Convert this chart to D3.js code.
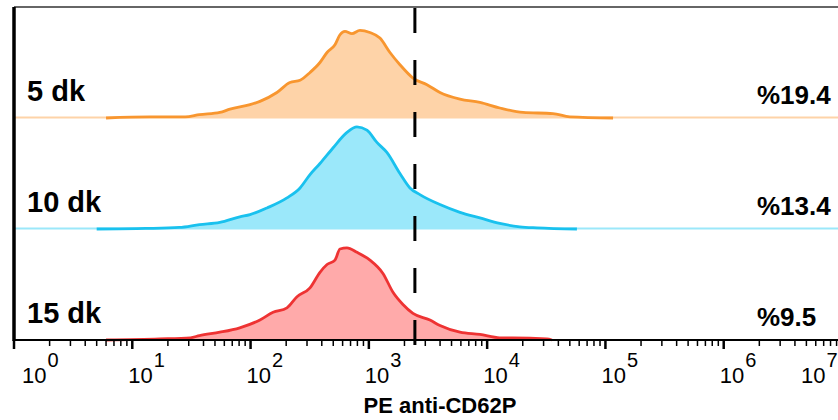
<!DOCTYPE html>
<html lang="tr">
<head>
    <meta charset="UTF-8">
    <title>PE anti-CD62P</title>
    <script src="https://d3js.org/d3.v7.min.js"></script>
    <style>
        body { margin: 0; background: #fff; }
        svg { display: block; background: #fff; }
        text { font-family: 'Liberation Sans', Arial, sans-serif; fill: #000; }
        .lbl { font-size: 29px; font-weight: bold; }
        .pct { font-size: 26px; font-weight: bold; }
        .tick-lbl { font-size: 22px; }
        .axis-title { font-size: 22px; font-weight: bold; }
    </style>
</head>
<body>
<svg width="838" height="420"></svg>
<script>
    // histogram data: [intensity, relative count]
    const groups = ["5 dk", "10 dk", "15 dk"];
    const percents = ["%19.4", "%13.4", "%9.5"];
    const gateValue = 2450;
    const decades = [0, 1, 2, 3, 4, 5, 6, 7];

    const hist5 = [
        [6, 0], [14, 1], [28, 1], [37, 3], [55, 5], [67, 8], [99, 12], [120, 15],
        [167, 23], [215, 32], [262, 34], [318, 41], [386, 50], [443, 59], [517, 66],
        [570, 75], [628, 78], [720, 76], [841, 79], [1021, 77], [1241, 72], [1508, 59],
        [1832, 48], [2360, 36], [3100, 30], [3990, 23], [5890, 17], [8690, 14],
        [12800, 9], [20100, 5], [36000, 4], [50100, 1], [116000, 0]
    ];
    const hist10 = [
        [5, 0], [13, 0.5], [25, 1.4], [37, 4], [55, 6], [81, 11], [99, 13], [138, 19],
        [203, 28], [262, 37], [318, 49], [386, 59], [497, 73], [653, 87], [793, 92],
        [963, 89], [1170, 78], [1420, 69], [1832, 50], [2225, 37], [2700, 31],
        [3990, 22], [5890, 15], [8690, 10], [12800, 5], [18900, 2], [26400, 1], [57400, 0]
    ];
    const hist15 = [
        [6, 0], [17, 1], [31, 2], [37, 4], [55, 7], [81, 11], [120, 18], [155, 25],
        [203, 29], [247, 39], [318, 47], [386, 61], [443, 68], [517, 72], [570, 82],
        [653, 83], [793, 79], [1021, 72], [1316, 60], [1600, 43], [1942, 32], [2360, 24],
        [3283, 18], [3990, 13], [5890, 7], [8690, 5], [12800, 2], [16500, 2], [32000, 1], [35300, 0]
    ];
    const histograms = [hist5, hist10, hist15];
    const fills = ["#FED3A8", "#9BE8FA", "#FFAAAA"];
    const strokes = ["#F8962F", "#19C1EE", "#EE3333"];

    const svg = d3.select("svg");
    const left = 14, topY = 7, panelH = 111, axisY = topY + panelH * 3;

    const x = d3.scaleLog().domain([1, 1e7]).range([left, 842]);

    histograms.forEach((data, i) => {
        const base = topY + panelH * (i + 1);
        const y = d3.scaleLinear().domain([0, 100]).range([base, base - panelH]);
        const g = svg.append("g");

        // baseline of each ridge
        if (i < 2) {
            g.append("line")
                .attr("x1", left).attr("x2", 838)
                .attr("y1", base - 0.5).attr("y2", base - 0.5)
                .attr("stroke", fills[i])
                .attr("stroke-width", 2);
        }

        g.append("path")
            .datum(data)
            .attr("fill", fills[i])
            .attr("d", d3.area().curve(d3.curveMonotoneX)
                .x(d => x(d[0])).y0(base).y1(d => y(d[1])));

        g.append("path")
            .datum(data)
            .attr("fill", "none")
            .attr("stroke", strokes[i])
            .attr("stroke-width", 2.8)
            .attr("stroke-linejoin", "round")
            .attr("d", d3.line().curve(d3.curveMonotoneX)
                .x(d => x(d[0])).y(d => y(d[1])));

        g.append("text").attr("class", "lbl")
            .attr("x", 27).attr("y", base - 17)
            .text(groups[i]);

        g.append("text").attr("class", "pct")
            .attr("x", 757).attr("y", base - 14)
            .text(percents[i]);
    });

    // frame
    svg.append("line").attr("x1", left).attr("x2", 838)
        .attr("y1", topY).attr("y2", topY)
        .attr("stroke", "#333").attr("stroke-width", 1.5);
    svg.append("line").attr("x1", left).attr("x2", left)
        .attr("y1", topY).attr("y2", axisY + 1)
        .attr("stroke", "#000").attr("stroke-width", 3.5);
    svg.append("line").attr("x1", left).attr("x2", 838)
        .attr("y1", axisY).attr("y2", axisY)
        .attr("stroke", "#000").attr("stroke-width", 2);

    // gate line
    svg.append("line")
        .attr("x1", x(gateValue)).attr("x2", x(gateValue))
        .attr("y1", topY + 1).attr("y2", axisY + 5)
        .attr("stroke", "#000").attr("stroke-width", 3)
        .attr("stroke-dasharray", "25,27");

    // ticks
    const minor = [];
    decades.slice(0, -1).forEach(p => {
        for (let k = 2; k <= 9; k++) minor.push(k * Math.pow(10, p));
    });
    svg.append("g").selectAll("line").data(minor).join("line")
        .attr("x1", d => x(d)).attr("x2", d => x(d))
        .attr("y1", axisY).attr("y2", axisY + 6)
        .attr("stroke", "#000").attr("stroke-width", 1.5);
    svg.append("g").selectAll("line").data(decades).join("line")
        .attr("x1", d => x(Math.pow(10, d))).attr("x2", d => x(Math.pow(10, d)))
        .attr("y1", axisY).attr("y2", axisY + 9)
        .attr("stroke", "#000").attr("stroke-width", 2.5);

    // first and last labels are pushed inside the frame
    const lbl = svg.append("g").selectAll("text").data(decades).join("text")
        .attr("class", "tick-lbl")
        .attr("x", d => Math.min(Math.max(x(Math.pow(10, d)) - 4, 22), 801))
        .attr("y", axisY + 43);
    lbl.append("tspan").text("10");
    lbl.append("tspan").attr("dy", -16).attr("dx", 1)
        .style("font-size", "20px").text(d => d);

    svg.append("text").attr("class", "axis-title")
        .attr("x", 440).attr("y", 413)
        .attr("text-anchor", "middle")
        .text("PE anti-CD62P");
</script>
</body>
</html>
